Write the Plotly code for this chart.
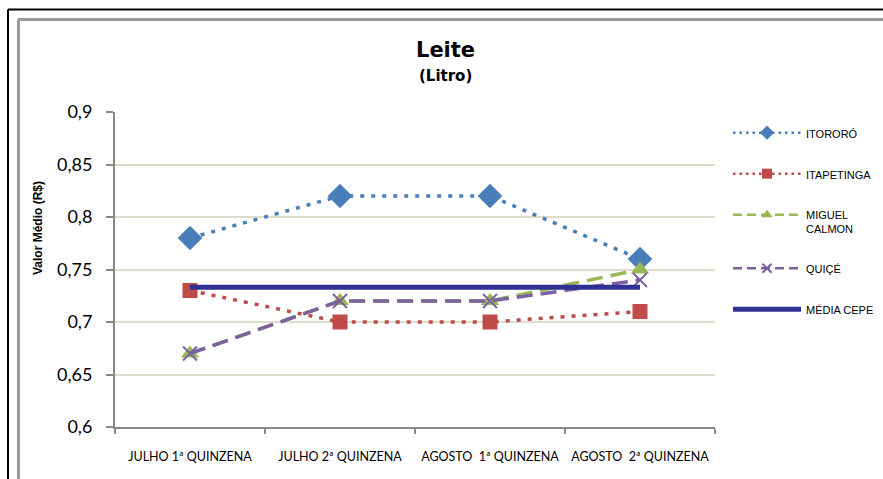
import plotly.graph_objects as go

categories = ["JULHO 1ª QUINZENA", "JULHO 2ª QUINZENA", "AGOSTO  1ª QUINZENA", "AGOSTO  2ª QUINZENA"]
itororo = [0.78, 0.82, 0.82, 0.76]
itapetinga = [0.73, 0.70, 0.70, 0.71]
miguel_calmon = [0.67, 0.72, 0.72, 0.75]
quice = [0.67, 0.72, 0.72, 0.74]
media_cepe = [0.733, 0.733, 0.733, 0.733]
y_ticks = [0.6, 0.65, 0.7, 0.75, 0.8, 0.85, 0.9]

W, H = 883, 479
L, R, T, B = 115, 168, 112, 52
PW, PH = W - L - R, H - T - B

def px(x):
    return (x - L) / PW

def py(y):
    return (H - B - y) / PH

series = [
    ("ITORORÓ", itororo, "#4a7ebb", 3.5, "4px,7px", "diamond", 19, 11),
    ("ITAPETINGA", itapetinga, "#be4b48", 3.5, "4px,7px", "square", 15, 10),
    ("MIGUEL<br>CALMON", miguel_calmon, "#98b954", 3.5, "16px,8px", "triangle-up", 16, 10),
    ("QUIÇÉ", quice, "#7d60a0", 3.5, "16px,8px", "x-thin", 14, 9),
]

fig = go.Figure()
for i, (name, vals, col, w, dash, sym, size, lsize) in enumerate(series):
    mk = dict(symbol=sym, size=size, color=col)
    lmk = dict(symbol=sym, size=lsize, color=col)
    if sym == "x-thin":
        mk["line"] = dict(color=col, width=2)
        lmk["line"] = dict(color=col, width=2)
    fig.add_trace(go.Scatter(x=categories, y=vals, name=name, mode="lines+markers",
                             line=dict(color=col, width=w, dash=dash), marker=mk,
                             showlegend=False, legendgroup=str(i)))
    fig.add_trace(go.Scatter(x=[None], y=[None], name=name, mode="lines+markers",
                             line=dict(color=col, width=2.5, dash=dash.replace("16px,8px", "9px,5px").replace("4px,7px", "2.5px,4px")),
                             marker=lmk, legendgroup=str(i)))
fig.add_trace(go.Scatter(x=categories, y=media_cepe, name="MÉDIA CEPE", mode="lines",
                         line=dict(color="#2e3192", width=5), legendgroup="e"))

fig.update_layout(
    width=W, height=H, autosize=False,
    margin=dict(l=L, r=R, t=T, b=B, autoexpand=False),
    paper_bgcolor="white", plot_bgcolor="white",
    separators=",.",
    showlegend=True,
    legend=dict(x=px(728), y=py(119), xanchor="left", yanchor="top",
                font=dict(family="Liberation Sans, Arial", size=11, color="#000"),
                tracegroupgap=22, valign="top", itemwidth=68, bgcolor="rgba(0,0,0,0)"),
    xaxis=dict(type="category", range=[-0.5, 3.5], tickson="boundaries",
               showline=True, linecolor="#888888", linewidth=2,
               ticks="outside", ticklen=5, tickcolor="#888888", tickwidth=2,
               showgrid=False, fixedrange=True, ticklabelstandoff=17,
               tickangle=0, automargin=False,
               tickfont=dict(family="Lato, Liberation Sans", size=12.5, color="#000")),
    yaxis=dict(range=[0.6, 0.9], tickvals=y_ticks, tickformat=".2~f",
               showline=True, linecolor="#888888", linewidth=2,
               ticks="outside", ticklen=7, tickcolor="#888888", tickwidth=2,
               showgrid=True, gridcolor="#e0dccb", gridwidth=2, zeroline=False,
               ticklabelstandoff=10, automargin=False, fixedrange=True,
               tickfont=dict(family="Lato, Liberation Sans", size=18, color="#000")),
    shapes=[
        dict(type="line", xref="paper", yref="paper", x0=px(8), x1=px(883), y0=py(9.5), y1=py(9.5),
             line=dict(color="#000", width=2)),
        dict(type="line", xref="paper", yref="paper", x0=px(8), x1=px(8), y0=py(9.5), y1=py(479),
             line=dict(color="#000", width=2)),
        dict(type="line", xref="paper", yref="paper", x0=px(18), x1=px(883), y0=py(19.5), y1=py(19.5),
             line=dict(color="#999999", width=3)),
        dict(type="line", xref="paper", yref="paper", x0=px(18.5), x1=px(18.5), y0=py(19.5), y1=py(479),
             line=dict(color="#999999", width=3)),
    ],
    annotations=[
        dict(text="<b>Leite</b>", xref="paper", yref="paper", x=px(445), y=py(50),
             xanchor="center", yanchor="middle",
             showarrow=False, font=dict(family="DejaVu Sans", size=21, color="#000")),
        dict(text="<b>(Litro)</b>", xref="paper", yref="paper", x=px(445), y=py(76),
             xanchor="center", yanchor="middle",
             showarrow=False, font=dict(family="DejaVu Sans", size=15, color="#000")),
        dict(text="<b>Valor Médio (R$)</b>", xref="paper", yref="paper", x=px(38), y=py(228),
             xanchor="center", yanchor="middle",
             showarrow=False, textangle=-90,
             font=dict(family="Liberation Sans Narrow, Liberation Sans", size=12, color="#000")),
    ],
)

fig.write_html("out.html", config={"displayModeBar": False},
               post_script="document.body.style.margin='0';")
